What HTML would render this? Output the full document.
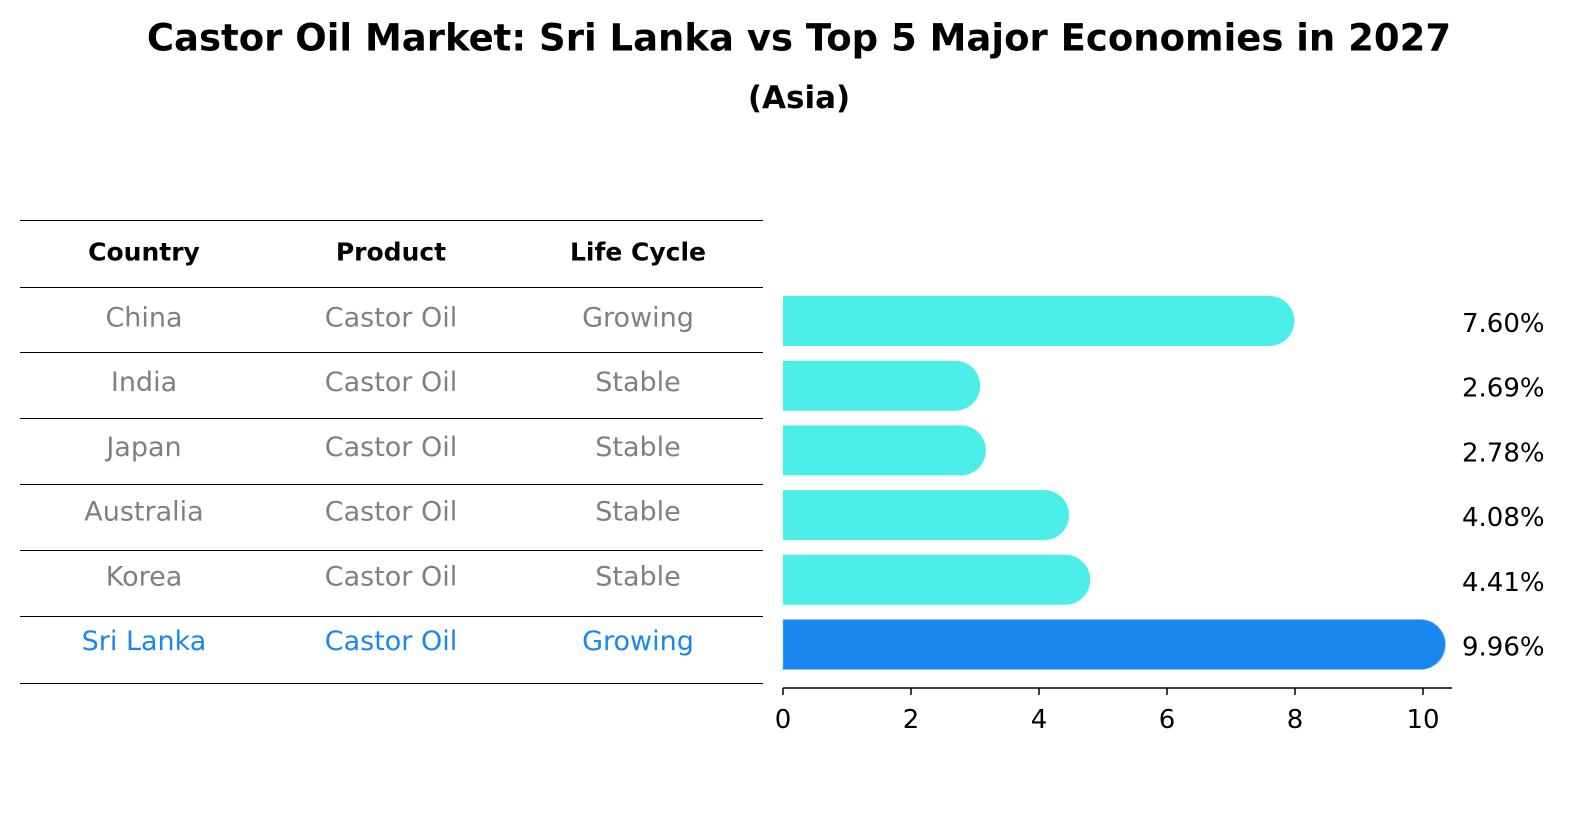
<!DOCTYPE html>
<html><head><meta charset="utf-8"><style>
body{margin:0;background:#fff;font-family:"DejaVu Sans","Liberation Sans",sans-serif;}
#wrap{position:relative;width:1586px;height:823px;overflow:hidden;}
.t{position:absolute;white-space:nowrap;transform:translate(-50%,-50%);}
</style></head><body>
<div id="wrap">
<div class="t" style="left:799px;top:38px;font-size:37px;font-weight:bold;">Castor Oil Market: Sri Lanka vs Top 5 Major Economies in 2027</div>
<div class="t" style="left:799px;top:98px;font-size:31px;font-weight:bold;">(Asia)</div>
<svg id="svg" width="1586" height="823" style="position:absolute;left:0;top:0"></svg>
</div>
<script>
const countries=["China","India","Japan","Australia","Korea","Sri Lanka"];
const products=["Castor Oil","Castor Oil","Castor Oil","Castor Oil","Castor Oil","Castor Oil"];
const lifecycles=["Growing","Stable","Stable","Stable","Stable","Growing"];
const values=[7.60,2.69,2.78,4.08,4.41,9.96];
const valueLabels=["7.60%","2.69%","2.78%","4.08%","4.41%","9.96%"];
const xTicks=[0,2,4,6,8,10];
const NS="http://www.w3.org/2000/svg";
const svg=document.getElementById('svg');
const x0=783,pxPer=64;
function xs(v){return x0+v*pxPer;}
function rowY(i){return 321+i*64.7;}
function mk(tag,attrs){const e=document.createElementNS(NS,tag);for(const k in attrs)e.setAttribute(k,attrs[k]);svg.appendChild(e);return e;}
function txt(x,y,s,opts){const e=mk('text',Object.assign({x:x,y:y,'text-anchor':'middle','dominant-baseline':'central','font-size':27,'font-family':'DejaVu Sans, Liberation Sans, sans-serif'},opts||{}));e.textContent=s;return e;}
const lineYs=[220.5,287.5,352.5,418.5,484.5,550.5,616.5,683.5];
lineYs.forEach((y,i)=>{const l=mk('line',{x1:20,x2:763,y1:y,y2:y,stroke:'#000','stroke-width':1});

});
const colX=[144,391,638];
["Country","Product","Life Cycle"].forEach((h,j)=>{const t=txt(colX[j],252,h,{'font-weight':'bold','font-size':25});

});
countries.forEach((c,i)=>{
 const y=rowY(i);const hl=c==="Sri Lanka";const col=hl?'#1a86f0':'#808080';
 [c,products[i],lifecycles[i]].forEach((s,j)=>{const t=txt(colX[j],y-3,s,{fill:col});
 
 });
 const h=50,r=25,x1=xs(values[i]);
 const p=mk('path',{d:`M${x0},${y-h/2} L${x1},${y-h/2} A${r},${r} 0 0 1 ${x1},${y+h/2} L${x0},${y+h/2} Z`,fill:hl?'#1a86f0':'#4beee8'});
 
 
 if(hl){p.setAttribute('stroke','#7fbfff');p.setAttribute('stroke-dasharray','2,2');p.setAttribute('stroke-width','1');}
 const v=txt(1462,y+3,valueLabels[i],{fill:'#000','text-anchor':'start','font-size':26});
 
 
});
const ax=mk('line',{x1:x0,x2:1452,y1:688,y2:688,stroke:'#000','stroke-width':1.5});


xTicks.forEach(t=>{const tk=mk('line',{x1:xs(t),x2:xs(t),y1:688,y2:695,stroke:'#000','stroke-width':1.5});


const l=txt(xs(t),720,String(t),{fill:'#000','font-size':26});

});
</script>
</body></html>
